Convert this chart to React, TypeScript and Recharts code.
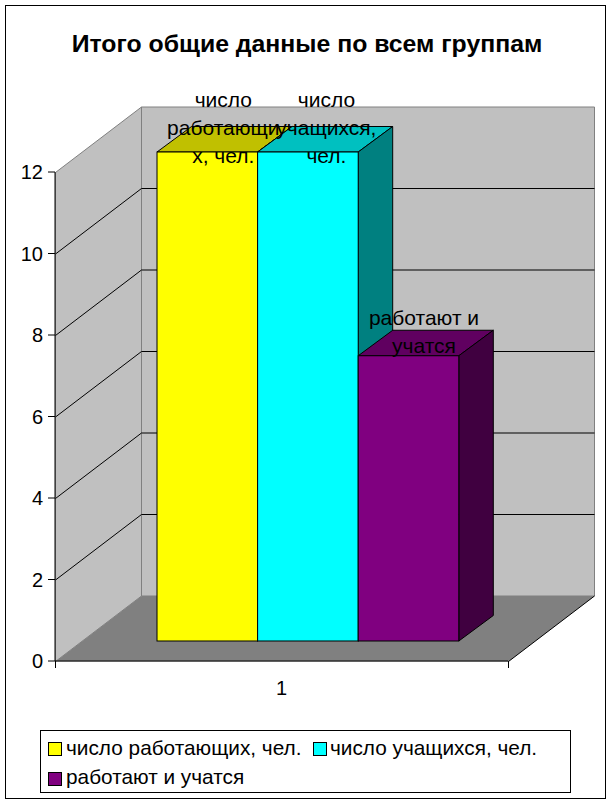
import React from "react";
import { BarChart, Bar, XAxis, YAxis, CartesianGrid, Legend, LabelList, ReferenceArea } from "recharts";

const title = "Итого общие данные по всем группам";
const categories = ["1"];
const workingValues = [12];
const studyingValues = [12];
const bothValues = [7];
const seriesNames = ["число работающих, чел.", "число учащихся, чел.", "работают и учатся"];
const workingLabel = ["число", "работающи", "х, чел."];
const studyingLabel = ["число", "учащихся,", "чел."];
const bothLabel = ["работают и", "учатся"];
const yTicks = [0, 2, 4, 6, 8, 10, 12];

const rows = categories.map((c, i) => ({
  category: c,
  working: workingValues[i],
  studying: studyingValues[i],
  both: bothValues[i],
}));

const FONT = "'Liberation Sans', Arial, sans-serif";
const WALL = { dx: 86, dy: -65.5 };
const SHIFT = { dx: 26, dy: -20 };
const DEPTH = { dx: 34.5, dy: -25.5 };

const pts = (list: number[][]) => list.map((p) => p.join(",")).join(" ");

function Walls(props: any) {
  const { x, y, width, height } = props;
  const l = x + 0.5, r = x + width + 0.5, t = y + 0.5, b = y + height + 0.5;
  const { dx, dy } = WALL;
  return (
    <g>
      <polygon points={pts([[l, t], [l + dx, t + dy], [l + dx, b + dy], [l, b]])} fill="#C0C0C0" stroke="#808080" />
      <polygon points={pts([[l + dx, t + dy], [r + dx, t + dy], [r + dx, b + dy], [l + dx, b + dy]])} fill="#C0C0C0" stroke="#808080" />
      <polygon points={pts([[l, b], [l + dx, b + dy], [r + dx, b + dy], [r, b]])} fill="#808080" />
      <line x1={r} y1={b} x2={r + dx} y2={b + dy} stroke="#000" />
    </g>
  );
}

function gridLine(props: any) {
  const { x1, x2, y1 } = props;
  const { dx, dy } = WALL;
  const l = x1 + 0.5, y = y1 + 0.5;
  if (y1 > 650 || y1 < 180) return <g key={props.key ?? y1} />;
  return (
    <polyline
      key={props.key ?? y1}
      points={pts([[l, y], [l + dx, y + dy], [x2 + dx + 0.5, y + dy]])}
      fill="none"
      stroke="#000"
    />
  );
}

function makeShape(front: string, top: string, side: string) {
  return (props: any) => {
    const x = props.x + SHIFT.dx, y = props.y + SHIFT.dy, w = props.width, h = props.height;
    const { dx, dy } = DEPTH;
    return (
      <g stroke="#000" strokeWidth={1}>
        <polygon points={pts([[x, y], [x + dx, y + dy], [x + w + dx, y + dy], [x + w, y]])} fill={top} />
        <polygon points={pts([[x + w, y], [x + w + dx, y + dy], [x + w + dx, y + h + dy], [x + w, y + h]])} fill={side} />
        <rect x={x} y={y} width={w} height={h} fill={front} />
      </g>
    );
  };
}

function makeLabel(lines: string[], shift: number) {
  return (props: any) => {
    const cx = props.x + props.width / 2 + shift;
    const centre = props.y - 44;
    const lh = 28;
    const start = centre - ((lines.length - 1) * lh) / 2;
    return (
      <g>
        {lines.map((t, i) => (
          <text key={i} x={cx} y={start + i * lh + 7} textAnchor="middle" fontFamily={FONT} fontSize={21} fill="#000">
            {t}
          </text>
        ))}
      </g>
    );
  };
}

function xTick(props: any) {
  const { x, width, payload } = props;
  const half = width / 2;
  return (
    <g>
      <line x1={x - half + 0.5} x2={x - half + 0.5} y1={661} y2={668} stroke="#000" />
      <line x1={x + half + 0.5} x2={x + half + 0.5} y1={661} y2={668} stroke="#000" />
      <text x={x} y={695} textAnchor="middle" fontFamily={FONT} fontSize={20} fill="#000">
        {payload.value}
      </text>
    </g>
  );
}

const legendSlots = [
  { left: 6.5, top: 10.5, textTop: 5.5, text: 25 },
  { left: 272, top: 10.5, textTop: 5.5, text: 289 },
  { left: 6.5, top: 40.5, textTop: 35, text: 25 },
];

function LegendBox(props: any) {
  const payload = props.payload ?? [];
  return (
    <div style={{ position: "relative", width: "100%", height: "100%", fontFamily: FONT, fontSize: 20.8, color: "#000" }}>
      {payload.map((p: any, i: number) => (
        <React.Fragment key={i}>
          <div
            style={{
              position: "absolute",
              left: legendSlots[i].left,
              top: legendSlots[i].top,
              width: 14,
              height: 14,
              boxSizing: "border-box",
              border: "1px solid #000",
              background: p.color,
            }}
          />
          <div
            style={{
              position: "absolute",
              left: legendSlots[i].text,
              top: legendSlots[i].textTop,
              lineHeight: "21px",
              whiteSpace: "nowrap",
            }}
          >
            {p.value}
          </div>
        </React.Fragment>
      ))}
    </div>
  );
}

export default function App() {
  return (
    <div style={{ position: "absolute", left: 0, top: 0, width: 612, height: 804, background: "#fff" }}>
      <div
        style={{
          position: "absolute",
          left: 5,
          top: 5,
          width: 601,
          height: 794,
          boxSizing: "border-box",
          border: "1px solid #000",
        }}
      />
      <div style={{ position: "absolute", left: 0, top: 0 }}>
        <BarChart
          width={612}
          height={804}
          data={rows}
          margin={{ top: 172, right: 104, bottom: 103, left: 0 }}
          barSize={100.6}
          barGap={0}
        >
          <text x={307} y={52} textAnchor="middle" fontFamily={FONT} fontSize={24.8} fontWeight="bold" fill="#000">
            {title}
          </text>
          <ReferenceArea y1={0} y2={12} x1="1" x2="1" ifOverflow="visible" shape={Walls} zIndex={-200} />
          <CartesianGrid vertical={false} horizontal={gridLine} syncWithTicks />
          <XAxis
            dataKey="category"
            height={40}
            axisLine={{ stroke: "#000" }}
            tickLine={false}
            tick={xTick}
            interval={0}
          />
          <YAxis
            width={55}
            domain={[0, 12]}
            ticks={yTicks}
            interval={0}
            axisLine={{ stroke: "#000" }}
            tickLine={{ stroke: "#000" }}
            tickSize={7}
            tickMargin={5}
            tick={{ fontFamily: FONT, fontSize: 20, fill: "#000" }}
          />
          <Bar dataKey="working" name={seriesNames[0]} fill="#FFFF00" isAnimationActive={false} shape={makeShape("#FFFF00", "#C0C000", "#808000")}>
            <LabelList content={makeLabel(workingLabel, 42)} />
          </Bar>
          <Bar dataKey="studying" name={seriesNames[1]} fill="#00FFFF" isAnimationActive={false} shape={makeShape("#00FFFF", "#00C0C0", "#008080")}>
            <LabelList content={makeLabel(studyingLabel, 44.5)} />
          </Bar>
          <Bar dataKey="both" name={seriesNames[2]} fill="#800080" isAnimationActive={false} shape={makeShape("#800080", "#600060", "#400040")}>
            <LabelList content={makeLabel(bothLabel, 41.5)} />
          </Bar>
          <Legend
            layout="horizontal"
            verticalAlign="middle"
            align="center"
            itemSorter={null}
            content={LegendBox}
            wrapperStyle={{
              position: "absolute",
              left: 40,
              top: 730,
              width: 531,
              height: 63,
              boxSizing: "border-box",
              border: "1px solid #000",
              background: "#fff",
            }}
          />
        </BarChart>
      </div>
    </div>
  );
}
